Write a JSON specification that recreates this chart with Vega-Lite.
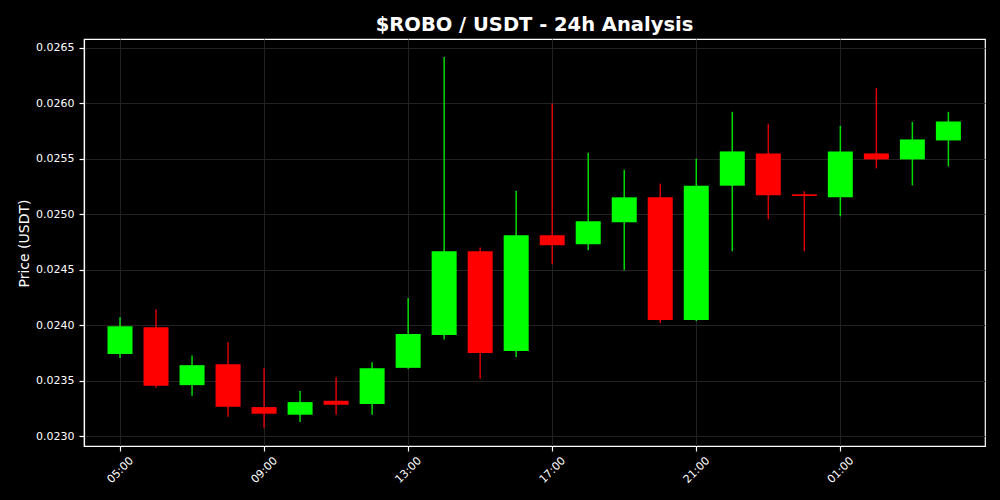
{
  "$schema": "https://vega.github.io/schema/vega-lite/v6.json",
  "width": 901,
  "height": 407,
  "autosize": {"type": "none"},
  "padding": {"left": 84, "top": 39, "right": 15, "bottom": 54},
  "background": "#000000",
  "config": {
    "font": "DejaVu Sans",
    "view": {"stroke": "#ffffff", "strokeWidth": 1.2, "fill": "#000000"},
    "axis": {
      "domainColor": "#ffffff",
      "domainWidth": 1.2,
      "tickColor": "#ffffff",
      "tickWidth": 1.2,
      "labelColor": "#ffffff",
      "titleColor": "#ffffff",
      "gridColor": "#222222",
      "gridWidth": 1,
      "labelFont": "DejaVu Sans",
      "titleFont": "DejaVu Sans",
      "labelFontSize": 11,
      "tickSize": 5
    }
  },
  "title": {
    "text": "$ROBO / USDT - 24h Analysis",
    "color": "#ffffff",
    "fontSize": 19.5,
    "fontWeight": "bold",
    "font": "DejaVu Sans",
    "anchor": "middle",
    "offset": 4
  },
  "data": {
    "values": [
      {"t": "2024-01-01T05:00:00Z", "open": 0.023740, "high": 0.024071, "low": 0.023704, "close": 0.023990},
      {"t": "2024-01-01T06:00:00Z", "open": 0.023981, "high": 0.024143, "low": 0.023435, "close": 0.023453},
      {"t": "2024-01-01T07:00:00Z", "open": 0.023459, "high": 0.023726, "low": 0.023363, "close": 0.023639},
      {"t": "2024-01-01T08:00:00Z", "open": 0.023648, "high": 0.023846, "low": 0.023174, "close": 0.023264},
      {"t": "2024-01-01T09:00:00Z", "open": 0.023261, "high": 0.023612, "low": 0.023075, "close": 0.023201},
      {"t": "2024-01-01T10:00:00Z", "open": 0.023192, "high": 0.023405, "low": 0.023126, "close": 0.023306},
      {"t": "2024-01-01T11:00:00Z", "open": 0.023318, "high": 0.023531, "low": 0.023192, "close": 0.023282},
      {"t": "2024-01-01T12:00:00Z", "open": 0.023288, "high": 0.023666, "low": 0.023192, "close": 0.023612},
      {"t": "2024-01-01T13:00:00Z", "open": 0.023615, "high": 0.024244, "low": 0.023606, "close": 0.023920},
      {"t": "2024-01-01T14:00:00Z", "open": 0.023911, "high": 0.026419, "low": 0.023870, "close": 0.024667},
      {"t": "2024-01-01T15:00:00Z", "open": 0.024667, "high": 0.024701, "low": 0.023516, "close": 0.023749},
      {"t": "2024-01-01T16:00:00Z", "open": 0.023767, "high": 0.025213, "low": 0.023713, "close": 0.024811},
      {"t": "2024-01-01T17:00:00Z", "open": 0.024811, "high": 0.025999, "low": 0.024550, "close": 0.024721},
      {"t": "2024-01-01T18:00:00Z", "open": 0.024730, "high": 0.025555, "low": 0.024676, "close": 0.024937},
      {"t": "2024-01-01T19:00:00Z", "open": 0.024928, "high": 0.025402, "low": 0.024496, "close": 0.025153},
      {"t": "2024-01-01T20:00:00Z", "open": 0.025153, "high": 0.025276, "low": 0.024019, "close": 0.024046},
      {"t": "2024-01-01T21:00:00Z", "open": 0.024046, "high": 0.025501, "low": 0.024037, "close": 0.025258},
      {"t": "2024-01-01T22:00:00Z", "open": 0.025258, "high": 0.025924, "low": 0.024667, "close": 0.025567},
      {"t": "2024-01-01T23:00:00Z", "open": 0.025549, "high": 0.025816, "low": 0.024955, "close": 0.025171},
      {"t": "2024-01-02T00:00:00Z", "open": 0.025180, "high": 0.025207, "low": 0.024667, "close": 0.025165},
      {"t": "2024-01-02T01:00:00Z", "open": 0.025153, "high": 0.025798, "low": 0.024982, "close": 0.025567},
      {"t": "2024-01-02T02:00:00Z", "open": 0.025549, "high": 0.026140, "low": 0.025414, "close": 0.025495},
      {"t": "2024-01-02T03:00:00Z", "open": 0.025495, "high": 0.025834, "low": 0.025261, "close": 0.025675},
      {"t": "2024-01-02T04:00:00Z", "open": 0.025666, "high": 0.025924, "low": 0.025432, "close": 0.025837}
    ]
  },
  "encoding": {
    "x": {
      "field": "t",
      "type": "temporal",
      "scale": {"type": "utc", "domain": [1704081600000, 1704171660000], "nice": false, "padding": 0},
      "axis": {
        "title": null,
        "values": [1704085200000, 1704099600000, 1704114000000, 1704128400000, 1704142800000, 1704157200000],
        "labelExpr": "utcFormat(datum.value, '%H:%M')",
        "labelAngle": -45,
        "labelAlign": "center",
        "labelBaseline": "middle",
        "labelPadding": 19,
        "grid": true
      }
    },
    "color": {
      "condition": {"test": "datum.close >= datum.open", "value": "#00ff00"},
      "value": "#ff0000"
    }
  },
  "layer": [
    {
      "mark": {"type": "rule", "strokeWidth": 1.5, "opacity": 0.85},
      "encoding": {
        "y": {
          "field": "low",
          "type": "quantitative",
          "scale": {"domain": [0.022910, 0.026581], "zero": false, "nice": false, "padding": 0},
          "axis": {
            "title": "Price (USDT)",
            "titleFontSize": 14,
            "titleFontWeight": "normal",
            "titleAngle": -90,
            "titleAlign": "center",
            "titleBaseline": "middle",
            "titleX": -60,
            "titleY": 204,
            "labelPadding": 5,
            "values": [0.023, 0.0235, 0.024, 0.0245, 0.025, 0.0255, 0.026, 0.0265],
            "format": ".4f",
            "grid": true
          }
        },
        "y2": {"field": "high"}
      }
    },
    {
      "mark": {"type": "bar", "width": 25},
      "encoding": {
        "y": {"field": "open", "type": "quantitative"},
        "y2": {"field": "close"}
      }
    }
  ]
}
